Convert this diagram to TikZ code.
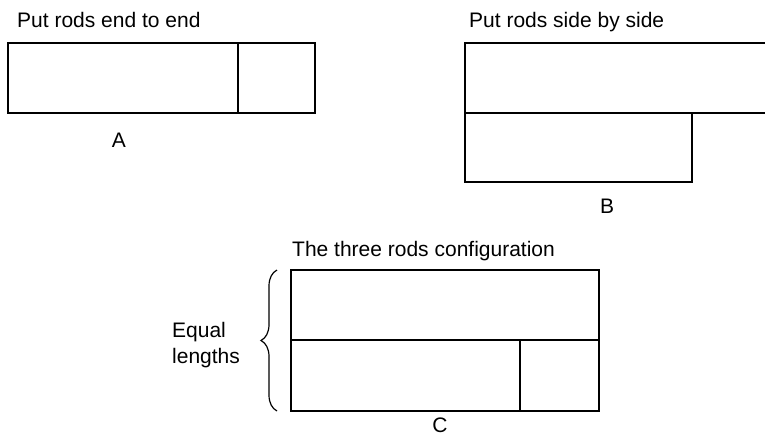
\documentclass[tikz,border=0pt]{standalone}
\usepackage{fontspec}
\setmainfont{Liberation Sans}
\usetikzlibrary{decorations.pathreplacing}

\tikzset{
  rod/.style={line width=1.6pt, line join=miter},
  caption/.style={inner sep=0pt, anchor=base west, font=\fontsize{21}{26}\selectfont},
  letter/.style={inner sep=0pt, anchor=base, font=\fontsize{21}{26}\selectfont}
}

\begin{document}
\begin{tikzpicture}[x=1pt, y=-1pt]
        \useasboundingbox (0, 0) rectangle (765, 437);

        % A: end to end
        \node (capA) at (17, 27) [caption] {Put rods end to end};
        \draw[rod] (8, 43) rectangle (315, 113);
        \draw[rod] (238, 43) -- (238, 113);
        \node (labA) at (119, 147) [letter] {A};

        % B: side by side
        \node (capB) at (469, 27) [caption] {Put rods side by side};
        \draw[rod] (766, 43) -- (465, 43) -- (465, 182) -- (692, 182) -- (692, 113);
        \draw[rod] (465, 113) -- (766, 113);
        \node (labB) at (607, 213) [letter] {B};

        % C: the three rods
        \node (capC) at (292, 256) [caption] {The three rods configuration};
        \draw[rod] (291, 270) rectangle (599, 411);
        \draw[rod] (291, 340) -- (599, 340);
        \draw[rod] (520, 340) -- (520, 411);
        \node (labC) at (440, 432.5) [letter] {C};

        \draw[line width=1.2pt, decorate, decoration={brace, amplitude=16pt}]
              (277, 411) -- (277, 270);
        \node (equal) at (172, 322.5) [inner sep=0pt, anchor=north west, align=left,
              font=\fontsize{21}{26}\selectfont] {Equal\\lengths};
      \end{tikzpicture}
\end{document}
